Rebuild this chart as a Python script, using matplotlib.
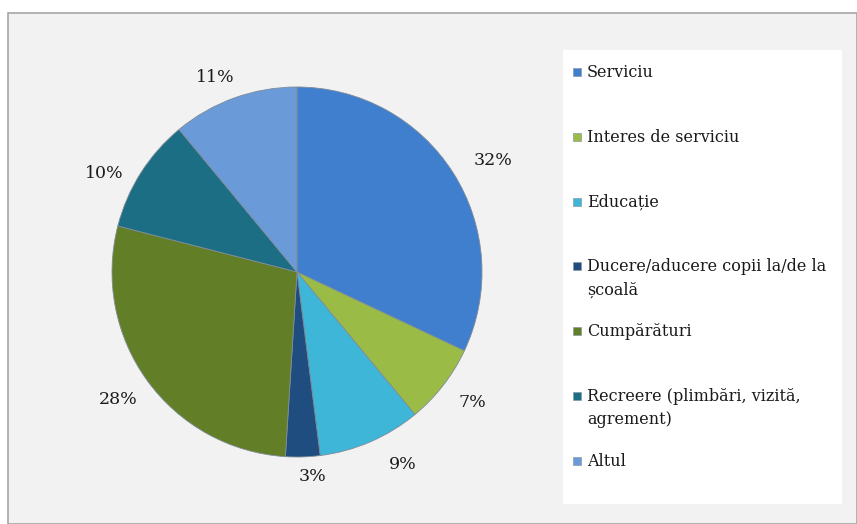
import numpy as np
import matplotlib.pyplot as plt
from matplotlib.patches import Rectangle

categories = ['Serviciu', 'Interes de serviciu', 'Educație',
              'Ducere/aducere copii la/de la\nșcoală', 'Cumpărături',
              'Recreere (plimbări, vizită,\nagrement)', 'Altul']
shares = [32, 7, 9, 3, 28, 10, 11]
colors = ['#3f7fcd', '#9abb45', '#3db6d8', '#1f4d80', '#627e27', '#1c6e84', '#6a9ad8']

# label placement around the pie (radius multiples, angle nudge in degrees)
label_dist = [1.22, 1.18, 1.19, 1.11, 1.19, 1.17, 1.14]
label_nudge = [-2.7, 1.2, 5.4, 2.5, -0.5, 5.2, 3.0]

W, H = 857, 524
fig = plt.figure(figsize=(W / 100, H / 100), dpi=100)
fig.patch.set_facecolor('white')

def px(x, y):
    return x / W, 1 - y / H

# chart area background and frame
x0, y0 = px(8, 13)
fig.patches.append(Rectangle((x0, 0), 1 - x0, y0, transform=fig.transFigure,
                             facecolor='#f2f2f2', edgecolor='#a6a6a6', lw=1.2,
                             zorder=-2))

# legend box
lx0, ly0 = px(563, 50)
lx1, ly1 = px(842, 504)
fig.patches.append(Rectangle((lx0, ly1), lx1 - lx0, ly0 - ly1, transform=fig.transFigure,
                             facecolor='white', edgecolor='none', zorder=-1))

# pie
cx, cy, r = 297, 272, 185
ax = fig.add_axes([(cx - r) / W, (H - cy - r) / H, 2 * r / W, 2 * r / H])
ax.patch.set_visible(False)
wedges, texts, autotexts = ax.pie(
    shares, colors=colors, startangle=90, counterclock=False,
    autopct='%1.0f%%', pctdistance=1.17,
    wedgeprops=dict(edgecolor='#7f8c99', linewidth=0.6),
    textprops=dict(fontsize=12.5, family='DejaVu Serif', color='#1a1a1a'))
ax.set_xlim(-1, 1)
ax.set_ylim(-1, 1)
ax.set_aspect('equal')

for w, t, d, nudge in zip(wedges, autotexts, label_dist, label_nudge):
    mid = np.deg2rad((w.theta1 + w.theta2) / 2 + nudge)
    t.set_position((d * np.cos(mid), d * np.sin(mid)))

step = 64.8
for i, (name, c) in enumerate(zip(categories, colors)):
    yy = 72 + i * step
    mx, my = px(573, yy + 4)
    fig.patches.append(Rectangle((mx, my), 8 / W, 8 / H, transform=fig.transFigure,
                                 facecolor=c, edgecolor='#8a9aa8', lw=0.5))
    tx, ty = px(587, yy - 8)
    fig.text(tx, ty, name, fontsize=11.5, family='DejaVu Serif', color='#1a1a1a',
             ha='left', va='top', linespacing=1.5)

fig.savefig('out.png', dpi=100)
